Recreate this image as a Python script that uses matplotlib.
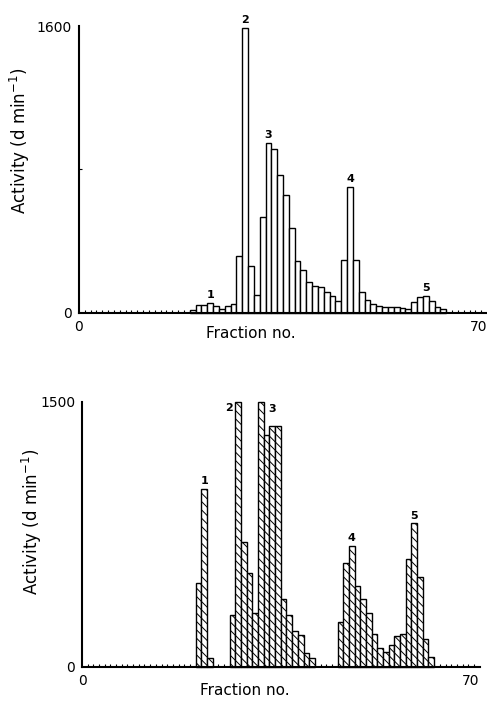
import numpy as np
import matplotlib.pyplot as plt

plt.rcParams['font.family'] = 'DejaVu Sans'
plt.rcParams['hatch.linewidth'] = 0.7

# Painel superior: fracoes 19..62
frac_sup = np.arange(19, 63)
ativ_sup = [15, 43, 43, 56, 37, 19, 37, 48, 316, 1590,
            260, 99, 536, 949, 915, 767, 657, 471, 290, 238,
            169, 151, 141, 117, 91, 63, 296, 701, 294, 113,
            71, 48, 35, 33, 33, 30, 26, 20, 58, 86,
            93, 67, 30, 19]
picos_sup = [22, 28, 32, 46, 59]

# Painel inferior: fracoes 20..61
frac_inf = np.arange(20, 62)
ativ_inf = [475, 1004, 47, 0, 0, 0, 292, 1500, 708, 528,
            306, 1500, 1310, 1359, 1359, 381, 292, 204, 181, 75,
            47, 0, 0, 0, 0, 255, 589, 683, 457, 381,
            306, 185, 104, 83, 125, 175, 185, 610, 811, 509,
            157, 53]
picos_inf = [21, 27, 31, 47, 58]

rotulos = ['1', '2', '3', '4', '5']

fig = plt.figure(figsize=(4.87, 7.08), dpi=100)
ax1 = fig.add_axes([0.1622, 0.5583, 0.8378, 0.4049])
ax2 = fig.add_axes([0.1684, 0.0583, 0.8164, 0.3746])


def estilo(ax, ymax, ymeio=None):
    ax.set_xlim(0, 70)
    ax.set_ylim(0, ymax)
    for s in ['top', 'right']:
        ax.spines[s].set_visible(False)
    for s in ['left', 'bottom']:
        ax.spines[s].set_linewidth(1.5)
    ax.set_xticks([0, 70])
    ax.set_xticks(np.arange(1, 70), minor=True)
    ax.set_yticks([0, ymax])
    if ymeio is not None:
        ax.set_yticks([ymeio], minor=True)
    ax.tick_params(which='major', length=0, labelsize=10, pad=5)
    ax.tick_params(which='minor', direction='in', length=2.5, width=0.8)
    ax.set_xlabel('Fraction no.', fontsize=11)
    ax.set_ylabel('Activity (d min$^{-1}$)', fontsize=12)
    ax.get_xticklabels()[1].set_ha('right')  # "70" encostado no fim do eixo


# Grafico superior (barras abertas)
m = np.array(ativ_sup) > 0
ax1.bar(frac_sup[m], np.array(ativ_sup)[m], width=1, align='edge',
        color='white', edgecolor='black', linewidth=1.0, clip_on=False)
estilo(ax1, 1600, 800)
ax1.xaxis.set_label_coords(0.42, -0.045)
ax1.yaxis.set_label_coords(-0.115, 0.60)
for r, f in zip(rotulos, picos_sup):
    v = ativ_sup[list(frac_sup).index(f)]
    ax1.annotate(r, (f + 0.5, v), xytext=(0, 2), textcoords='offset points',
                 ha='center', va='bottom', fontsize=8, fontweight='bold',
                 annotation_clip=False)

# Grafico inferior (barras hachuradas)
m = np.array(ativ_inf) > 0
ax2.bar(frac_inf[m], np.array(ativ_inf)[m], width=1, align='edge',
        color='white', edgecolor='black', linewidth=1.0, hatch='\\\\\\\\',
        clip_on=False)
estilo(ax2, 1500)
ax2.xaxis.set_label_coords(0.41, -0.06)
ax2.yaxis.set_label_coords(-0.095, 0.546)
for r, f in zip(rotulos, picos_inf):
    v = ativ_inf[list(frac_inf).index(f)]
    if r == '2':
        ax2.annotate(r, (f, v), xytext=(-2, -1), textcoords='offset points',
                     ha='right', va='top', fontsize=8, fontweight='bold')
    elif r == '3':
        ax2.annotate(r, (f + 1, v), xytext=(3, -2), textcoords='offset points',
                     ha='left', va='top', fontsize=8, fontweight='bold')
    else:
        ax2.annotate(r, (f + 0.5, v), xytext=(0, 2), textcoords='offset points',
                     ha='center', va='bottom', fontsize=8, fontweight='bold')

fig.savefig('out.png', dpi=100)
